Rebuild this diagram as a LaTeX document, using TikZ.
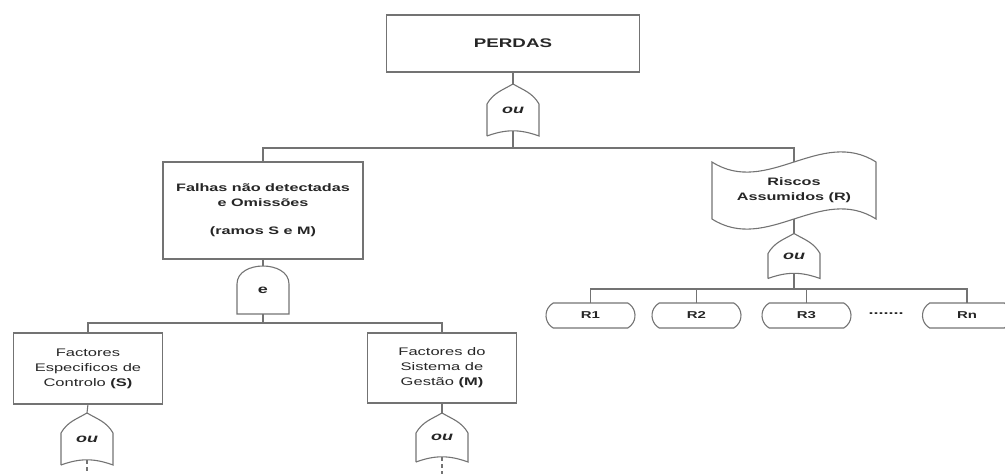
\documentclass[tikz,border=0pt]{standalone}
\usepackage{fontspec}
\setmainfont[FakeStretch=1.5]{Liberation Sans}
\usepackage{tikz}
\usetikzlibrary{positioning,shapes.misc,calc}
\definecolor{linegray}{gray}{0.45}
\definecolor{textgray}{gray}{0.15}

% gate outlines, drawn round a (blank) gate node
\newcommand{\orgate}[1]{%
  \draw[wire] (#1.south west) -- ([yshift=-20pt]#1.north west)
    to[out=60,in=-150] (#1.north)
    to[out=-30,in=120] ([yshift=-20pt]#1.north east)
    -- (#1.south east) to[out=160,in=20] (#1.south west);}
\newcommand{\andgate}[1]{%
  \draw[wire] (#1.south west) -- ([yshift=-18pt]#1.north west)
    to[out=90,in=180] (#1.north)
    to[out=0,in=90] ([yshift=-18pt]#1.north east)
    -- (#1.south east) -- cycle;}
\newcommand{\tapebox}[1]{%
  \draw[wire] (#1.north west) .. controls +(55,35) and +(-55,-35) .. (#1.north east)
    -- (#1.south east) .. controls +(-55,-35) and +(55,35) .. (#1.south west) -- cycle;}

\begin{document}
\begin{tikzpicture}[
    x=1pt, y=-1pt,
    every node/.style={text=textgray, outer sep=0pt},
    wire/.style={draw=linegray, line width=1.1pt},
    box/.style={rectangle, draw=linegray, line width=1.1pt, align=center, inner sep=2pt},
    topbox/.style={box, font=\fontsize{12.5}{15}\selectfont\bfseries},
    midbox/.style={box, font=\fontsize{10.8}{15}\selectfont\bfseries},
    lowbox/.style={box, minimum width=149pt, font=\fontsize{11}{15}\selectfont},
    tape/.style={rectangle, minimum width=164pt, minimum height=57pt, inner sep=0pt, align=center, font=\fontsize{10.8}{15}\selectfont\bfseries},
    gate/.style={rectangle, minimum width=52pt, minimum height=50pt, inner sep=0pt, font=\fontsize{12}{12}\selectfont\bfseries\itshape},
    event/.style={rounded rectangle, rounded rectangle arc length=120, draw=linegray, line width=1.1pt, minimum width=89pt, minimum height=25pt, inner sep=0pt, font=\fontsize{10}{12}\selectfont\bfseries}
]
\useasboundingbox (0,0) rectangle (1005,474);

% top event
\node[topbox, minimum width=253pt, minimum height=57pt] (perdas) at (513,43.5) {PERDAS};
\node[gate, minimum height=52pt] (g0) at (513,110) {ou};
\orgate{g0}

% second level
\node[midbox, minimum width=200pt, minimum height=97pt] (falhas) at (263,210.5) {Falhas não detectadas\\e Omissões\\[13pt](ramos S e M)};
\node[tape] (riscos) at (794,190.5) {Riscos\\Assumidos (R)};
\tapebox{riscos}

% and gate under Falhas
\node[gate, minimum height=48pt, font=\fontsize{12}{12}\selectfont\bfseries] (g1) at (263,290) {e};
\andgate{g1}

% third level, left branch
\node[lowbox, minimum height=71pt] (fs) at (88,368.5) {Factores\\Especificos de\\Controlo \textbf{(S)}};
\node[lowbox, minimum height=70pt] (fm) at (442,368) {Factores do\\Sistema de\\Gestão \textbf{(M)}};
\node[gate, minimum height=52pt] (gs) at (87,439) {ou};
\orgate{gs}
\node[gate, minimum height=49pt] (gm) at (442,437.5) {ou};
\orgate{gm}
\coordinate (send) at (87,480);
\coordinate (mend) at (442,480);

% right branch
\node[gate, minimum height=45pt] (g2) at (794,256) {ou};
\orgate{g2}
\node[event] (r1) at (590.5,315.5) {R1};
\node[event] (r2) at (696.5,315.5) {R2};
\node[event] (r3) at (806.5,315.5) {R3};
\node[font=\fontsize{12}{12}\selectfont\bfseries] (dots) at (886,314) {.......};
\node[event] (rn) at (967,315.5) {Rn};

% bus points
\coordinate (b0) at (513,148);
\coordinate (b1) at (263,323);
\coordinate (b2) at (794,289);

% connectors
\draw[wire] (perdas.south) -- (g0.north);
\draw[wire] ([yshift=5pt]g0.south) -- (b0);
\draw[wire] (falhas.north) |- (b0) -| (riscos.north);
\draw[wire] (falhas.south) -- (g1.north);
\draw[wire] (g1.south) -- (b1);
\draw[wire] (fs.north) |- (b1) -| (fm.north);
\draw[wire] (fs.south) -- (gs.north);
\draw[wire] (fm.south) -- (gm.north);
\draw[wire, dash pattern=on 4pt off 3pt] ([yshift=5pt]gs.south) -- (send);
\draw[wire, dash pattern=on 4pt off 3pt] ([yshift=5pt]gm.south) -- (mend);
\draw[wire] (riscos.south) -- (g2.north);
\draw[wire] ([yshift=5pt]g2.south) -- (b2);
\draw[wire] (r1.north) |- (b2) -| (rn.north);
\draw[wire] (r2.north) -- (r2.north |- b2);
\draw[wire] (r3.north) -- (r3.north |- b2);

\end{tikzpicture}
\end{document}
